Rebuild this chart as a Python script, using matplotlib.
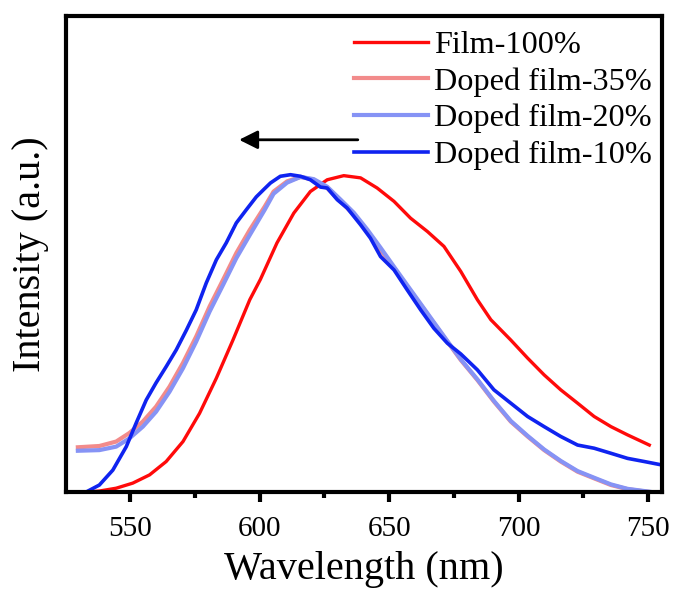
import matplotlib
matplotlib.use("Agg")
import matplotlib.pyplot as plt
from matplotlib.ticker import MultipleLocator

plt.rcParams['font.family'] = ['Liberation Serif', 'DejaVu Serif']

wl_film100 = [526, 533, 538.1, 544.6, 551.0, 557.5, 563.9, 570.4, 576.8, 583.3, 589.7,
              596.2, 600.3, 606.7, 613.2, 619.6, 626.1, 632.5, 639.0, 645.4, 651.9,
              658.3, 664.8, 671.2, 677.7, 684.1, 689.3, 697.0, 703.5, 709.9, 716.3,
              722.8, 729.2, 735.7, 742.1, 750.5]
int_film100 = [0, 0, 0.003, 0.012, 0.028, 0.054, 0.096, 0.159, 0.248, 0.359, 0.479,
               0.606, 0.67, 0.785, 0.879, 0.947, 0.984, 0.997, 0.99, 0.958, 0.916,
               0.863, 0.821, 0.774, 0.695, 0.606, 0.543, 0.479, 0.422, 0.369, 0.322,
               0.28, 0.238, 0.206, 0.18, 0.148]

wl_doped = [529.8, 538.1, 544.6, 549.7, 554.9, 560.0, 565.2, 570.4, 575.5, 580.7,
            585.9, 591.0, 596.2, 602.0, 605.4, 610.6, 615.8, 620.9, 626.1, 631.2,
            636.4, 641.6, 646.7, 651.9, 657.0, 662.2, 667.3, 672.5, 677.7, 684.1,
            690.5, 697.0, 703.5, 709.9, 716.3, 722.8, 729.2, 735.7, 742.1, 750.5]
int_doped35 = [0.141, 0.145, 0.159, 0.186, 0.222, 0.269, 0.332, 0.407, 0.49, 0.585,
               0.669, 0.753, 0.826, 0.90, 0.947, 0.979, 0.993, 0.984, 0.958, 0.916,
               0.874, 0.821, 0.763, 0.706, 0.648, 0.59, 0.532, 0.474, 0.416, 0.353,
               0.285, 0.222, 0.175, 0.132, 0.096, 0.064, 0.043, 0.022, 0.009, 0.0]
int_doped20 = [0.13, 0.132, 0.143, 0.169, 0.206, 0.253, 0.316, 0.39, 0.474, 0.569,
               0.653, 0.737, 0.81, 0.89, 0.94, 0.975, 0.993, 0.986, 0.962, 0.922,
               0.88, 0.827, 0.77, 0.71, 0.652, 0.593, 0.535, 0.476, 0.418, 0.355,
               0.287, 0.224, 0.177, 0.134, 0.098, 0.066, 0.045, 0.024, 0.010, 0.001]

wl_doped10 = [526, 533, 538.1, 543.3, 548.5, 552.3, 556.2, 560.0, 563.9, 567.8, 571.7,
              575.5, 579.4, 583.3, 587.1, 591.0, 594.9, 598.7, 601.8, 604.2, 608.0,
              611.9, 615.8, 619.6, 623.5, 626.1, 630.0, 633.8, 639.0, 642.8, 646.7,
              651.9, 657.0, 662.2, 667.3, 672.5, 677.7, 684.1, 690.5, 697.0, 703.5,
              709.9, 716.3, 722.8, 729.2, 735.7, 742.1, 748.6, 755.5]
int_doped10 = [0, 0, 0.022, 0.069, 0.143, 0.217, 0.29, 0.344, 0.395, 0.448, 0.51,
               0.574, 0.659, 0.732, 0.785, 0.848, 0.89, 0.93, 0.955, 0.974, 0.995,
               1.0, 0.995, 0.984, 0.961, 0.958, 0.921, 0.895, 0.842, 0.80, 0.742,
               0.70, 0.637, 0.574, 0.516, 0.469, 0.435, 0.385, 0.322, 0.28, 0.238,
               0.206, 0.175, 0.148, 0.138, 0.122, 0.106, 0.096, 0.085]

fig = plt.figure(figsize=(6.73, 5.94), dpi=100)
ax = fig.add_axes([0.098, 0.1717, 0.886, 0.8013])

ax.plot(wl_film100, int_film100, color='#FF0A0A', lw=2.4, label='Film-100%')
ax.plot(wl_doped, int_doped35, color='#F28B8B', lw=3.0, label='Doped film-35%')
ax.plot(wl_doped, int_doped20, color='#8693F5', lw=3.0, label='Doped film-20%')
ax.plot(wl_doped10, int_doped10, color='#0F23F0', lw=2.6, label='Doped film-10%')

ax.annotate('', xy=(591, 1.11), xytext=(639, 1.11),
            arrowprops=dict(arrowstyle='-|>', color='black', lw=2, mutation_scale=28))

ax.set_xlim(525.2, 755.5)
ax.set_ylim(0, 1.5)
ax.xaxis.set_major_locator(MultipleLocator(50))
ax.xaxis.set_minor_locator(MultipleLocator(25))
ax.set_yticks([])
ax.tick_params(axis='x', which='major', direction='out', length=7, width=3,
               labelsize=21, pad=10)
ax.tick_params(axis='x', which='minor', direction='out', length=4, width=3)
for s in ax.spines.values():
    s.set_linewidth(3)

ax.set_xlabel('Wavelength (nm)', fontsize=29, labelpad=7)
ax.set_ylabel('Intensity (a.u.)', fontsize=29, labelpad=12)

ax.legend(loc='upper right', bbox_to_anchor=(0.983, 0.97), frameon=False,
          fontsize=23.2, handlelength=2.3, handletextpad=0.2, labelspacing=0.22,
          borderpad=0, borderaxespad=0)

fig.savefig('out.png', dpi=100)
